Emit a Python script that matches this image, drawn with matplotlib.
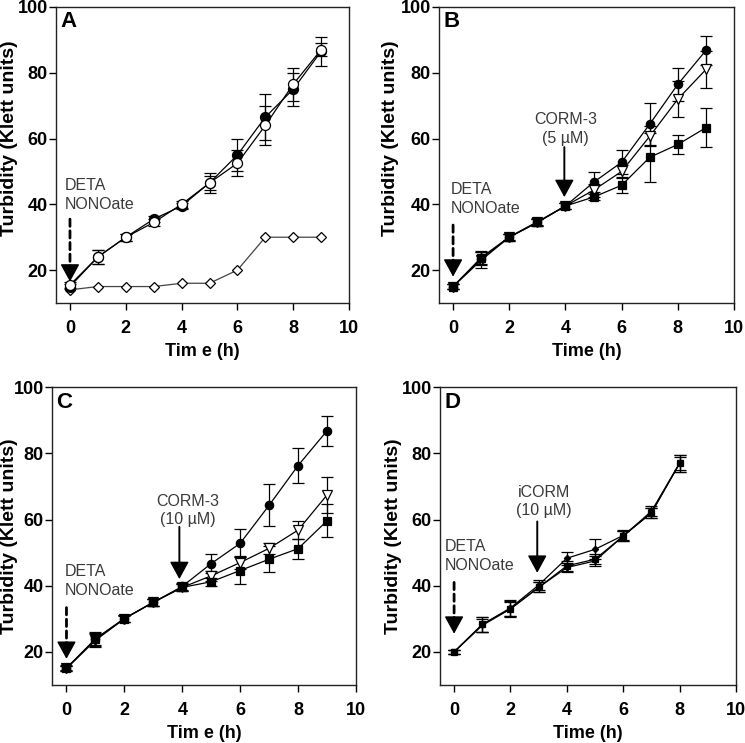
import numpy as np
import matplotlib
matplotlib.use("Agg")
import matplotlib.pyplot as plt

plt.rcParams['font.family'] = ['Liberation Sans', 'DejaVu Sans']

hours = [0, 1, 2, 3, 4, 5, 6, 7, 8, 9]
hours_d = [0, 1, 2, 3, 4, 5, 6, 7, 8]

# panel A
a_filled = [15, 24, 30, 35.5, 39.5, 46.5, 55, 66.5, 75, 86.5]
a_filled_err = [0.8, 2, 1, 1, 1, 3, 5, 7, 5, 4.5]
a_open = [15.5, 24, 30, 34.5, 40, 46.5, 52.5, 64, 76.5, 87]
a_open_err = [0.8, 2, 1, 1, 1, 2, 4, 6, 5, 2]
a_diamond = [14, 15, 15, 15, 16, 16, 20, 30, 30, 30]

# panel B
b_circle = [15, 23.5, 30, 34.5, 39.5, 46.7, 52.8, 64.4, 76.5, 86.8]
b_circle_err = [0.8, 2, 1, 1, 1, 3, 3.7, 6.4, 5, 4.5]
b_tri = [15, 23, 30, 34.5, 39.5, 44.3, 50, 60.7, 72, 81]
b_tri_err = [0.8, 2.5, 1, 1, 1, 2, 2, 3, 5.5, 5.5]
b_square = [15, 23.8, 30.1, 34.7, 39.5, 42.2, 45.8, 54.3, 58.2, 63.3]
b_square_err = [0.8, 2, 1, 1, 1, 1, 2.5, 7.5, 3, 6]

# panel C
c_circle = [15.2, 23.8, 30.1, 35, 39.8, 46.7, 52.8, 64.3, 76.3, 86.8]
c_circle_err = [0.8, 2, 1, 1, 1, 3, 4.2, 6.3, 5.3, 4.5]
c_tri = [15, 23.5, 30, 35, 39.5, 43, 47, 51.3, 56.8, 67.4]
c_tri_err = [0.8, 2, 1, 1, 1, 1.5, 2, 1.7, 2.7, 5.5]
c_square = [15, 24, 30.1, 35, 39.5, 41.2, 44.6, 48, 51.2, 59.6]
c_square_err = [0.8, 2, 1, 1, 1, 1.2, 4, 4, 3, 5]

# panel D
d_diamond = [20, 28.3, 33.3, 40.2, 48.3, 51, 55.2, 62, 77]
d_diamond_err = [0.5, 2.2, 2.5, 1.5, 2, 3, 1.5, 1.5, 2.5]
d_square = [20, 28.3, 33, 39.5, 46, 48, 55, 62, 77]
d_square_err = [0.5, 2.2, 2.5, 1.5, 1.5, 1.5, 1.5, 1.5, 2.5]
d_tri = [20, 28, 33, 39.5, 45.5, 47.5, 55, 62.5, 77]
d_tri_err = [0.5, 2, 2, 1.5, 1.5, 1.5, 1.5, 1.5, 2]

xticks = [0, 2, 4, 6, 8, 10]
yticks = [20, 40, 60, 80, 100]

txtcol = '#3a3a3a'

fig = plt.figure(figsize=(7.45, 7.43), dpi=100)
axA = fig.add_axes([0.0752, 0.5922, 0.3933, 0.3984])
axB = fig.add_axes([0.5893, 0.5922, 0.3960, 0.3984])
axC = fig.add_axes([0.0698, 0.0780, 0.4080, 0.4010])
axD = fig.add_axes([0.5906, 0.0780, 0.3973, 0.4010])


def series(ax, x, y, err, marker, ms, mfc, color='black', lw=0.9):
    if err is None:
        ax.plot(x, y, marker=marker, ms=ms, mfc=mfc, mec='black', mew=0.9,
                color=color, lw=lw)
    else:
        ax.errorbar(x, y, yerr=err, marker=marker, ms=ms, mfc=mfc,
                    mec='black', mew=0.9, color=color, lw=lw,
                    ecolor='black', elinewidth=0.9, capsize=4.3,
                    capthick=0.9)


def style(ax, letter, xlabel, ylab_x, ylab_y):
    ax.set_xlim(-0.5, 10)
    ax.set_ylim(10, 100)
    ax.set_xticks(xticks)
    ax.set_yticks(yticks)
    ax.tick_params(direction='out', length=5, width=1, labelsize=13,
                   top=False, right=False)
    ax.tick_params(axis='x', pad=7)
    ax.tick_params(axis='y', pad=1)
    for lab in ax.get_xticklabels() + ax.get_yticklabels():
        lab.set_fontweight('bold')
    for s in ax.spines.values():
        s.set_linewidth(1.0)
        s.set_color('#222222')
    ax.set_xlabel(xlabel, fontsize=13, fontweight='bold', labelpad=4.5)
    ax.set_ylabel('Turbidity (Klett units)', fontsize=14, fontweight='bold')
    ax.yaxis.set_label_coords(ylab_x, ylab_y)
    ax.text(0.015, 0.985, letter, transform=ax.transAxes, ha='left',
            va='top', fontsize=16, fontweight='bold')


def arrow(ax, x, y0, y1, dashed):
    # head length in data units (about 15 px)
    hl = 4.6
    if dashed:
        ax.annotate('', xy=(x, y1 + hl), xytext=(x, y0),
                    arrowprops=dict(arrowstyle='-', color='black', lw=2.0,
                                    linestyle=(0, (2.6, 1.6)),
                                    shrinkA=0, shrinkB=0))
    else:
        ax.annotate('', xy=(x, y1 + hl), xytext=(x, y0),
                    arrowprops=dict(arrowstyle='-', color='black', lw=1.4,
                                    shrinkA=0, shrinkB=0))
    ax.annotate('', xy=(x, y1), xytext=(x, y1 + hl),
                arrowprops=dict(arrowstyle='-|>,head_length=11,head_width=6',
                                mutation_scale=1, color='black', lw=1.0,
                                shrinkA=0, shrinkB=0))


def label(ax, x, y, s, ha='left'):
    ax.text(x, y, s, fontsize=11.5, color=txtcol, ha=ha, va='center',
            linespacing=1.3)


# A
series(axA, hours, a_filled, a_filled_err, 'o', 7.2, 'black')
series(axA, hours, a_open, a_open_err, 'o', 7.2, 'white')
series(axA, hours, a_diamond, None, 'D', 4.8, 'white', color='#444444')
style(axA, 'A', 'Tim e (h)', -0.13, 0.557)
label(axA, -0.18, 42.8, 'DETA\nNONOate')
arrow(axA, 0, 35.5, 16.5, True)

# B
series(axB, hours, b_circle, b_circle_err, 'o', 6.0, 'black')
series(axB, hours, b_tri, b_tri_err, 'v', 6.8, 'white')
series(axB, hours, b_square, b_square_err, 's', 6.0, 'black')
style(axB, 'B', 'Time (h)', -0.136, 0.557)
label(axB, -0.1, 41.6, 'DETA\nNONOate')
arrow(axB, 0, 33.7, 18, True)
label(axB, 4.0, 62.9, 'CORM-3\n(5 µM)', ha='center')
arrow(axB, 3.96, 57.4, 42.2, False)

# C
series(axC, hours, c_circle, c_circle_err, 'o', 6.0, 'black')
series(axC, hours, c_tri, c_tri_err, 'v', 6.8, 'white')
series(axC, hours, c_square, c_square_err, 's', 6.0, 'black')
style(axC, 'C', 'Tim e (h)', -0.112, 0.5)
label(axC, -0.07, 41.4, 'DETA\nNONOate')
arrow(axC, 0, 33.4, 17.9, True)
label(axC, 4.2, 62.7, 'CORM-3\n(10 µM)', ha='center')
arrow(axC, 3.9, 57.8, 42, False)

# D
series(axD, hours_d, d_diamond, d_diamond_err, 'D', 3.2, 'black')
series(axD, hours_d, d_square, d_square_err, 's', 4.3, 'black')
series(axD, hours_d, d_tri, d_tri_err, 'v', 4.6, 'black')
style(axD, 'D', 'Time (h)', -0.128, 0.5)
label(axD, -0.32, 49.0, 'DETA\nNONOate')
arrow(axD, 0, 41, 25.5, True)
label(axD, 3.2, 65.4, 'iCORM\n(10 µM)', ha='center')
arrow(axD, 2.95, 59.4, 43.9, False)

fig.savefig('out.png', dpi=100, facecolor='white')
